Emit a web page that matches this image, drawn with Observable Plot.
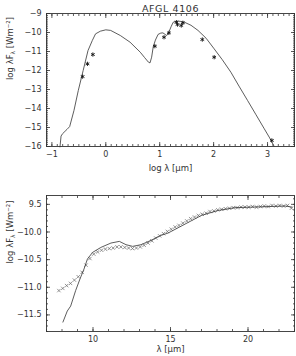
<!DOCTYPE html>
<html><head><meta charset="utf-8">
<script src="https://cdn.jsdelivr.net/npm/d3@7"></script>
<script src="https://cdn.jsdelivr.net/npm/@observablehq/plot@0.6"></script>
<style>
body{margin:0;background:#fff;}
#c{width:296px;height:356px;}
#c svg{display:block;}
</style></head><body><div id="c"></div>
<script>
// ---- Top panel: SED (log lambda vs log lambda F_lambda)
const sedModelLogLam  = [-0.85,-0.83,-0.80,-0.72,-0.67,-0.59,-0.51,-0.42,-0.33,-0.25,-0.19,-0.10,0.00,0.09,0.27,0.45,0.64,0.72,0.79,0.82,0.85,0.88,0.92,0.97,1.02,1.06,1.10,1.13,1.17,1.21,1.25,1.30,1.34,1.40,1.46,1.58,1.71,1.86,2.01,2.16,2.32,2.47,2.63,2.78,2.94,3.04,3.12];
const sedModelLogFlux = [-16.02,-15.45,-15.32,-15.10,-14.95,-14.10,-13.05,-12.00,-10.95,-10.42,-10.07,-9.93,-9.86,-9.89,-10.16,-10.51,-11.04,-11.32,-11.56,-11.60,-11.30,-10.75,-10.40,-10.10,-10.03,-10.02,-10.10,-10.16,-9.98,-9.70,-9.46,-9.41,-9.40,-9.42,-9.46,-9.62,-9.89,-10.30,-10.86,-11.43,-12.09,-12.82,-13.58,-14.30,-15.07,-15.55,-15.98];
const sedPhotLogLam  = [-0.43,-0.34,-0.24,0.91,1.08,1.17,1.31,1.33,1.40,1.43,1.79,2.01,3.08];
const sedPhotLogFlux = [-12.32,-11.65,-11.16,-10.72,-10.25,-10.02,-9.46,-9.58,-9.63,-9.49,-10.37,-11.30,-15.68];

// ---- Bottom panel: mid-IR spectrum
const specModelLam     = [8.06,8.34,8.56,8.88,9.16,9.42,9.64,9.97,10.5,11.16,11.7,12.13,12.56,13.1,13.75,14.4,14.84,15.92,17.0,18.08,19.16,20.25,21.33,22.4,22.84];
const specModelLogFlux = [-11.63,-11.43,-11.34,-11.06,-10.85,-10.67,-10.49,-10.37,-10.28,-10.20,-10.17,-10.23,-10.26,-10.23,-10.15,-10.06,-10.02,-9.86,-9.70,-9.61,-9.56,-9.55,-9.54,-9.53,-9.55];
const specObsLam = [7.80,8.05,8.30,8.55,8.80,9.05,9.30,9.55,9.80,10.05,10.30,10.55,10.80,11.05,11.30,11.55,11.80,12.05,12.30,12.55,12.80,13.05,13.30,13.55,13.80,14.05,14.30,14.55,14.80,15.05,15.30,15.55,15.80,16.05,16.30,16.55,16.80,17.05,17.30,17.55,17.80,18.05,18.30,18.55,18.80,19.05,19.30,19.55,19.80,20.05,20.30,20.55,20.80,21.05,21.30,21.55,21.80,22.05,22.30,22.55,22.80];
const specObsLogFlux = [-11.06,-11.02,-10.97,-10.93,-10.87,-10.81,-10.73,-10.60,-10.48,-10.40,-10.36,-10.33,-10.31,-10.30,-10.29,-10.27,-10.27,-10.28,-10.29,-10.30,-10.29,-10.27,-10.24,-10.20,-10.16,-10.11,-10.07,-10.03,-9.99,-9.95,-9.91,-9.88,-9.84,-9.80,-9.76,-9.73,-9.70,-9.68,-9.66,-9.63,-9.62,-9.60,-9.59,-9.58,-9.57,-9.56,-9.56,-9.55,-9.55,-9.55,-9.54,-9.55,-9.54,-9.53,-9.54,-9.52,-9.53,-9.52,-9.53,-9.52,-9.57];

// ---- ticks and labels
const topTitle = "AFGL 4106";
const yLabelText = "log λFλ [Wm⁻²]";
const topXLabel = "log λ [μm]";
const botXLabel = "λ [μm]";
const topXTicks = [-1,0,1,2,3];
const topXTickLabels = ["−1","0","1","2","3"];
const topYTicks = [-16,-15,-14,-13,-12,-11,-10,-9];
const topYTickLabels = ["−16","−15","−14","−13","−12","−11","−10","−9"];
const botXTicks = [10,15,20];
const botXTickLabels = ["10","15","20"];
const botYTicks = [-11.5,-11,-10.5,-10,-9.5];
const botYTickLabels = ["−11.5","−11.0","−10.5","−10.0","9.5"];
const topXMinor = d3.range(-11, 36).map(i => i/10);
const topYMinor = d3.range(-160, -89).map(i => i/10);
const botXMinor = d3.range(7, 24);
const botYMinor = d3.range(-118, -93).map(i => i/10);

const ink = "#333";
const font = "DejaVu Sans";

function boxAxes(xMaj, xLab, xMin, yMaj, yLab, yMin) {
  const xm = new Map(xMaj.map((d,i)=>[d,xLab[i]]));
  const ym = new Map(yMaj.map((d,i)=>[d,yLab[i]]));
  const tk = {fill:"none", stroke: ink, strokeWidth: 0.8, label: null};
  return [
    Plot.frame({stroke: ink, strokeWidth: 0.9}),
    Plot.axisX(xMaj, {...tk, anchor:"bottom", tickSize:4, dy:-4}),
    Plot.axisX(xMin, {...tk, anchor:"bottom", tickSize:2, dy:-2}),
    Plot.axisX(xMaj, {...tk, anchor:"top", tickSize:4, dy:4}),
    Plot.axisX(xMin, {...tk, anchor:"top", tickSize:2, dy:2}),
    Plot.axisY(yMaj, {...tk, anchor:"left", tickSize:4, dx:4}),
    Plot.axisY(yMin, {...tk, anchor:"left", tickSize:2, dx:2}),
    Plot.axisY(yMaj, {...tk, anchor:"right", tickSize:4, dx:-4}),
    Plot.axisY(yMin, {...tk, anchor:"right", tickSize:2, dx:-2}),
    Plot.axisX(xMaj, {anchor:"bottom", tickSize:0, tickPadding:5, tickFormat: d=>xm.get(d), label:null, fill: ink, fontSize: 8}),
    Plot.axisY(yMaj, {anchor:"left", tickSize:0, tickPadding:5, tickFormat: d=>ym.get(d), label:null, fill: ink, fontSize: 8})
  ];
}

const topChart = Plot.plot({
  width: 296, height: 185,
  marginTop: 13, marginBottom: 39, marginLeft: 46, marginRight: 2,
  style: {fontFamily: font, fontSize: "8px", color: ink, background: "white"},
  x: {domain: [-1.1, 3.5]},
  y: {domain: [-16, -9]},
  marks: [
    ...boxAxes(topXTicks, topXTickLabels, topXMinor, topYTicks, topYTickLabels, topYMinor),
    Plot.line(sedModelLogLam, {x: d=>d, y: (d,i)=>sedModelLogFlux[i], stroke: ink, strokeWidth: 0.8}),
    Plot.dot(sedPhotLogLam, {x: d=>d, y: (d,i)=>sedPhotLogFlux[i], symbol: "asterisk", r: 2, stroke: "#111", strokeWidth: 0.9}),
    Plot.text([topTitle], {frameAnchor: "top", dy: -8.5, text: d=>d, fontSize: 9.5, fill: ink}),
    Plot.text([topXLabel], {frameAnchor: "bottom", dy: 24, text: d=>d, fontSize: 8.5, fill: ink}),
    Plot.text([yLabelText], {frameAnchor: "left", dx: -36, rotate: -90, text: d=>d, fontSize: 8.5, fill: ink})
  ]
});

const botChart = Plot.plot({
  width: 296, height: 171,
  marginTop: 10, marginBottom: 25, marginLeft: 46, marginRight: 2,
  style: {fontFamily: font, fontSize: "8px", color: ink, background: "white"},
  x: {domain: [7, 23]},
  y: {domain: [-11.8, -9.34]},
  marks: [
    ...boxAxes(botXTicks, botXTickLabels, botXMinor, botYTicks, botYTickLabels, botYMinor),
    Plot.dot(specObsLam, {x: d=>d, y: (d,i)=>specObsLogFlux[i], symbol: "times", r: 1.7, stroke: "#666", strokeWidth: 0.7}),
    Plot.line(specModelLam, {x: d=>d, y: (d,i)=>specModelLogFlux[i], stroke: ink, strokeWidth: 0.8}),
    Plot.text([botXLabel], {frameAnchor: "bottom", dy: 20.5, text: d=>d, fontSize: 8.5, fill: ink}),
    Plot.text([yLabelText], {frameAnchor: "left", dx: -36, rotate: -90, text: d=>d, fontSize: 8.5, fill: ink})
  ]
});

const c = document.getElementById("c");
c.appendChild(topChart);
c.appendChild(botChart);

// subscript lambda in the y label; slightly spaced title like the reference
d3.selectAll("#c svg text").filter(function(){ return this.textContent === yLabelText; }).each(function(){
  const t = d3.select(this);
  t.text(null);
  t.append("tspan").text("log λF");
  t.append("tspan").attr("font-size", "6px").attr("dy", "1.5").text("λ");
  t.append("tspan").attr("dy", "-1.5").text(" [Wm⁻²]");
});
d3.selectAll("#c svg text").filter(function(){ return this.textContent === topTitle; }).attr("letter-spacing", "0.6px");
</script>
</body></html>
